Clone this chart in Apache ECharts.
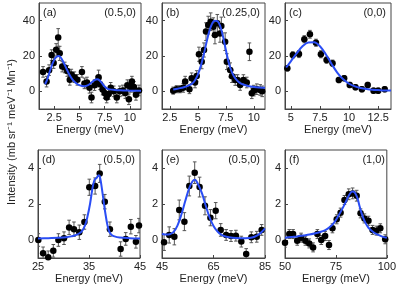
<!DOCTYPE html>
<html><head><meta charset="utf-8">
<script src="https://cdn.jsdelivr.net/npm/echarts@6/dist/echarts.min.js"></script>
<style>html,body{margin:0;padding:0;background:#fff}#c{width:399px;height:285px}</style>
</head><body><div id="c"></div>
<script>
// ---------- data ----------
const aE = [1.4,1.75,2.0,2.25,2.45,2.7,2.9,3.05,3.3,3.55,3.8,4.05,4.2,4.5,4.8,5.25,5.5,5.75,6.0,6.2,6.5,6.75,6.9,7.05,7.3,7.5,7.7,7.9,8.1,8.4,8.7,9.0,9.3,9.55,9.75,9.9,10.05,10.2,10.4,10.6,10.9];
const aI = [11,5.5,12,20.5,16,23.5,30.5,21.5,14,13.5,11.5,6.5,9.5,8,6.5,11,4.5,5,2,-3.5,3.5,5.5,8,4,1,-1,-3.5,-1.5,2,0,-3.5,0,0.5,-1,3.5,-4.5,2.5,5.5,2.5,-2,0.5];
const aErr = [3,3,3,3,3,3.5,5,4,3,3,3,3,3,3,3,3,3,3,3,3,3,3,4,3,3,3,3,3,3,3,3,3,3,3,3,3,3,3,3,3,3];
const aFitE = [1.6,1.8,2.0,2.2,2.4,2.6,2.8,2.95,3.1,3.3,3.5,3.75,4.0,4.25,4.5,4.75,5.0,5.25,5.5,5.75,6.0,6.25,6.5,6.75,7.0,7.25,7.5,7.75,8.0,8.5,9.0,9.5,10.0,10.5,11.1];
const aFitI = [4,6.5,10,13.5,16.5,18.7,19.8,20,19.5,17.8,15.5,12.5,9.5,7.2,5.5,4.3,3.5,3.0,2.9,3.2,4.0,5.2,6.3,6.8,6.2,4.5,2.7,1.6,1.1,0.8,0.6,0.5,0.4,0.3,0.3];

const bE = [2.8,3.1,3.4,3.7,3.87,4.25,4.45,4.75,4.9,5.1,5.35,5.55,5.73,5.93,6.15,6.38,6.53,6.74,6.98,7.1,7.44,7.59,7.89,8.05,8.34,8.55,8.78,9.07,9.37,9.61,9.82,10.0,10.27,10.57,10.75];
const bI = [0.4,1.2,1.2,2,5.5,1.2,7.4,5,8.7,21,16.8,23.4,33.8,37.5,39.4,36.6,31.9,38.5,32.8,37,28.1,16.8,12.1,8.5,6.4,6.4,3.6,6.4,5,22.4,-1.1,0.4,1.2,0.8,0];
const bErr = [2,2,2,2.5,3,2.5,3,3,3,4,4,4,5,5,5,5,5,5,5,5,5,4.5,4,3.5,3,3,3,3,3,5,3,3,3,3,3];
const bFitE = [2.8,3.25,3.75,4.25,4.5,4.75,5.0,5.25,5.5,5.75,6.0,6.25,6.5,6.75,7.0,7.25,7.5,7.75,8.0,8.25,8.5,8.75,9.0,9.5,10.0,10.5,11.0];
const bFitI = [1.0,1.6,2.3,3.5,4.5,6.3,9.5,14,20,27,33.5,38,40,39.8,37,31,23.5,16.5,11.5,8.2,6.2,4.8,4.0,3.0,2.5,2.2,2.0];

const cE = [4.7,5.17,5.7,6.16,6.64,7.16,7.58,8.07,8.58,9.12,9.58,10.06,10.55,11.1,11.6,12.1,12.5,13.06];
const cI = [13,20.6,21.1,29.5,32.3,27.5,21,17.7,15.9,6.4,7.4,3.6,2.3,1.2,3.6,0.4,0.4,1.2];
const cErr = [1.5,1.8,2,2,2.2,2,2,1.8,1.8,1.5,1.5,1.5,1.5,1.5,1.5,1.5,1.5,1.5];
const cFitE = [4.6,5.0,5.5,6.0,6.5,7.0,7.5,8.0,8.5,9.0,9.5,10.0,10.5,11.0,11.5,12.0,12.5,13.0,13.6];
const cFitI = [13.5,17,21.5,25.5,27.7,27.8,25.5,21,15.5,10.5,6.8,4.3,2.8,1.9,1.3,0.9,0.7,0.5,0.5];

const dE = [25.06,26.0,27.0,28.0,29.0,30.1,31.1,32.05,33.1,34.1,35.06,36.2,37.1,38.1,39.1,41.2,42.2,43.2,44.2,44.8];
const dI = [0,-0.74,-0.96,-0.6,0,0.1,0.7,0.6,0.43,1.0,2.93,3.0,3.7,2.13,0.6,-0.5,0.06,0.74,-0.1,0.8];
const dErr = [0.35,0.35,0.35,0.35,0.35,0.35,0.4,0.4,0.4,0.4,0.45,0.45,0.5,0.4,0.4,0.4,0.35,0.4,0.35,0.4];
const dFitE = [25,27,29,30.5,31.5,32.5,33.5,34.2,34.7,35.2,35.7,36.1,36.5,36.9,37.1,37.4,37.8,38.2,38.6,39.0,39.5,40,41,43,45];
const dFitI = [0.08,0.1,0.12,0.15,0.2,0.28,0.45,0.8,1.3,2.0,2.9,3.35,3.45,3.6,3.55,3.1,2.3,1.5,0.85,0.45,0.27,0.2,0.14,0.1,0.08];

const eE = [45.8,47.8,49.8,51.7,53.7,55.6,57.7,59.6,61.7,63.8,65.85,67.8,69.9,71.8,73.7,75.8,77.7,79.7,81.8,83.7];
const eI = [-0.13,0.28,0.18,1.67,1.02,3.0,3.74,2.94,1.9,1.24,1.63,0.56,0.28,0.22,0.24,-0.09,-0.78,0.15,0.18,0.56];
const eErr = [0.45,0.45,0.45,0.55,0.5,0.55,0.6,0.55,0.5,0.45,0.45,0.35,0.3,0.3,0.3,0.3,0.3,0.3,0.3,0.3];
const eFitE = [45,46.5,48,49.5,51,52.5,54,55.5,56.8,57.8,59,60.5,62,63.5,65,66.5,68,70,72.5,75,77.5,80,82,83.5,85];
const eFitI = [0.35,0.3,0.32,0.45,0.8,1.4,2.15,2.85,3.25,3.35,3.1,2.6,1.9,1.25,0.78,0.48,0.3,0.18,0.12,0.1,0.1,0.14,0.26,0.42,0.65];

const fE = [50,52.1,53.95,56.0,57.9,60,61.9,63.8,65.9,67.8,69.7,71.6,73.3,75.4,77.3,79.2,81.3,83.2,85.2,87.1,89,91,93,94.9,96.8,99.2];
const fI = [-0.15,0.33,0.33,-0.04,0.13,-0.04,-0.19,-0.41,0.33,0,0.22,-0.28,0.65,1.15,1.52,2.22,2.54,2.59,2.46,1.48,1.2,1.07,0.56,0.52,0.65,0.04];
const fErr = [0.25,0.25,0.25,0.25,0.25,0.25,0.25,0.25,0.25,0.25,0.25,0.25,0.25,0.25,0.25,0.25,0.3,0.3,0.3,0.25,0.25,0.25,0.25,0.25,0.25,0.25];
const fFitE = [50,53,56,59,62,65,68,70,72,74,76,78,80,81.5,83,84.2,85.5,86.8,88,89.5,91,93,95,97.5,100];
const fFitI = [0.13,0.17,0.2,0.25,0.3,0.37,0.47,0.56,0.72,0.95,1.3,1.7,2.15,2.5,2.7,2.65,2.35,1.8,1.35,0.95,0.68,0.47,0.32,0.2,0.12];

const panelNames = ['(a)','(b)','(c)','(d)','(e)','(f)'];
const qLabels = ['(0.5,0)','(0.25,0)','(0,0)','(0.5,0)','(0.5,0)','(1,0)'];
const xTicks = [[2.5,5,7.5,10],[2.5,5,7.5,10],[5,7.5,10,12.5],[25,35,45],[45,65,85],[50,75,100]];
const xRanges = [[1,11.1],[1.8,11],[4.5,13.6],[25,45],[45,85],[50,100]];
const yTicksTop = [0,20,40];
const yTicksBottom = [0,2,4];
const yRangeTop = [-10,50];
const yRangeBottom = [-1,5];
const xTitle = 'Energy (meV)';
const yTitle = 'Intensity (mb sr\u207B\u00B9 meV\u207B\u00B9 Mn\u207B\u00B9)';

const panels = [
  [aE,aI,aErr,aFitE,aFitI],[bE,bI,bErr,bFitE,bFitI],[cE,cI,cErr,cFitE,cFitI],
  [dE,dI,dErr,dFitE,dFitI],[eE,eI,eErr,eFitE,eFitI],[fE,fI,fErr,fFitE,fFitI]
];

// ---------- layout ----------
const gridPos = [
  {left:39, top:3, width:102, height:106},
  {left:162, top:3, width:103, height:106},
  {left:285, top:3, width:106, height:106},
  {left:38, top:150, width:102, height:108},
  {left:162, top:150, width:103, height:108},
  {left:285, top:150, width:105, height:108}
];
const FONT = 'Liberation Sans, Arial, sans-serif';
const TXT = '#222';
const AX = '#444';

const grid = [], xAxis = [], yAxis = [], series = [], graphic = [];
gridPos.forEach((g, i) => {
  grid.push(Object.assign({show:true, borderColor:AX, borderWidth:1, containLabel:false}, g));
  xAxis.push({
    type:'value', gridIndex:i, min:xRanges[i][0], max:xRanges[i][1],
    name:xTitle, nameLocation:'middle', nameGap:15,
    nameTextStyle:{fontFamily:FONT, fontSize:11, color:TXT},
    axisLine:{show:true, onZero:false, lineStyle:{color:AX}},
    axisTick:{show:true, inside:true, length:3, customValues:xTicks[i], lineStyle:{color:AX}},
    axisLabel:{customValues:xTicks[i], margin:3, fontFamily:FONT, fontSize:11, color:TXT,
      showMinLabel:true, showMaxLabel:true, hideOverlap:false},
    splitLine:{show:false}
  });
  const top = i < 3;
  const yt = top ? yTicksTop : yTicksBottom;
  const yr = top ? yRangeTop : yRangeBottom;
  yAxis.push({
    type:'value', gridIndex:i, min:yr[0], max:yr[1],
    axisLine:{show:true, onZero:false, lineStyle:{color:AX}},
    axisTick:{show:true, inside:true, length:3, customValues:yt, lineStyle:{color:AX}},
    axisLabel:{customValues:yt, margin:4, fontFamily:FONT, fontSize:11, color:TXT},
    splitLine:{show:false}
  });
  const [xs, ys, es, fx, fy] = panels[i];
  series.push({
    type:'custom', xAxisIndex:i, yAxisIndex:i, silent:true, clip:true, z:2,
    data: xs.map((x,k)=>[x, ys[k]-es[k], ys[k]+es[k]]),
    encode:{x:0, y:[1,2]},
    renderItem(params, api){
      const x = api.value(0), lo = api.value(1), hi = api.value(2);
      const p1 = api.coord([x, lo]), p2 = api.coord([x, hi]);
      const cw = 1.8;
      const st = {stroke:'#555', lineWidth:1};
      return {type:'group', children:[
        {type:'line', shape:{x1:p1[0],y1:p1[1],x2:p2[0],y2:p2[1]}, style:st},
        {type:'line', shape:{x1:p1[0]-cw,y1:p1[1],x2:p1[0]+cw,y2:p1[1]}, style:st},
        {type:'line', shape:{x1:p2[0]-cw,y1:p2[1],x2:p2[0]+cw,y2:p2[1]}, style:st}
      ]};
    }
  });
  series.push({
    type:'scatter', xAxisIndex:i, yAxisIndex:i, silent:true, clip:true, z:3,
    symbol:'circle', symbolSize:6.5, itemStyle:{color:'#000', opacity:1},
    data: xs.map((x,k)=>[x, ys[k]])
  });
  series.push({
    type:'line', xAxisIndex:i, yAxisIndex:i, silent:true, clip:true, z:4,
    showSymbol:false, smooth:0.35, lineStyle:{color:'#2a4df5', width:2},
    data: fx.map((x,k)=>[x, fy[k]])
  });
  graphic.push({type:'text', left:g.left+4, top:g.top+4, style:{text:panelNames[i], font:'11px '+FONT, fill:TXT}});
  graphic.push({type:'text', right:399-(g.left+g.width)+5, top:g.top+4, style:{text:qLabels[i], font:'11px '+FONT, fill:TXT}});
});
graphic.push({type:'text', x:12, y:132, rotation:Math.PI/2,
  style:{text:yTitle, font:'11px '+FONT, fill:TXT, align:'center', verticalAlign:'middle'}});

const chart = echarts.init(document.getElementById('c'), null, {renderer:'canvas'});
chart.setOption({animation:false, backgroundColor:'#fff', grid, xAxis, yAxis, series, graphic});
</script></body></html>
